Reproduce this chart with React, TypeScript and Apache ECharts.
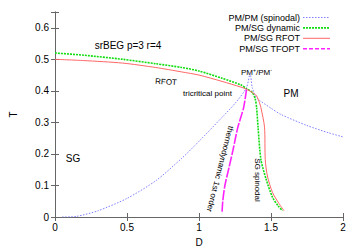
import React, { useEffect, useRef } from "react";
import * as echarts from "echarts";

// PM/PM spinodal (blue dotted)
const spinodalD = [0.05, 0.15, 0.3, 0.5, 0.7, 0.88, 1.0, 1.16, 1.25, 1.33, 1.355, 1.37, 1.4, 1.5, 1.57, 1.75, 1.9, 2.0];
const spinodalT = [0.0, 0.002, 0.02, 0.059, 0.115, 0.186, 0.24, 0.316, 0.36, 0.41, 0.455, 0.41, 0.378, 0.345, 0.325, 0.29, 0.267, 0.254];

// PM/SG dynamic (green dashed)
const dynamicD = [0.0, 0.2, 0.47, 0.7, 0.88, 1.0, 1.16, 1.29, 1.33, 1.37, 1.39, 1.4, 1.41, 1.43, 1.466, 1.51, 1.55, 1.58];
const dynamicT = [0.52, 0.513, 0.5, 0.486, 0.474, 0.463, 0.44, 0.419, 0.407, 0.395, 0.375, 0.347, 0.285, 0.182, 0.12, 0.063, 0.035, 0.02];

// PM/SG RFOT (red solid)
const rfotD = [0.0, 0.2, 0.47, 0.7, 0.88, 1.0, 1.16, 1.29, 1.33, 1.37, 1.4, 1.42, 1.43, 1.455, 1.46, 1.475, 1.51, 1.555, 1.59];
const rfotT = [0.5, 0.496, 0.488, 0.474, 0.46, 0.45, 0.43, 0.412, 0.405, 0.395, 0.384, 0.362, 0.347, 0.285, 0.182, 0.13, 0.078, 0.043, 0.02];

// PM/SG TFOPT (magenta)
const tfoptD = [1.33, 1.31, 1.27, 1.235, 1.21, 1.18, 1.165, 1.16];
const tfoptT = [0.405, 0.347, 0.285, 0.21, 0.16, 0.1, 0.05, 0.012];

const seriesNames = ["PM/PM (spinodal)", "PM/SG dynamic", "PM/SG RFOT", "PM/SG TFOPT"];
const xTicks = [0, 0.5, 1, 1.5, 2];

const zip = (a: number[], b: number[]) => a.map((v, i) => [v, b[i]]);

const FONT = "Liberation Sans, Arial, sans-serif";

const styles = [
  { color: "#7f7fff", width: 1, type: [1.5, 1.5] as number[] | string },
  { color: "#11dd11", width: 1.6, type: [2, 1] as number[] | string },
  { color: "#ff6666", width: 1, type: "solid" as number[] | string },
  { color: "#ff22ff", width: 1.6, type: [10, 1.5] as number[] | string },
];

export default function App() {
  const ref = useRef<HTMLDivElement>(null);
  useEffect(() => {
    if (!ref.current) return;
    const chart = echarts.init(ref.current, undefined, { renderer: "svg" });
    const axisLine = { show: true, lineStyle: { color: "#666", width: 1 } };
    const tick = { show: true, inside: true, length: 4, lineStyle: { color: "#666" } };
    const legendRows = [17.5, 27.9, 38.3, 48.7];
    const dataSets = [
      zip(spinodalD, spinodalT),
      zip(dynamicD, dynamicT),
      zip(rfotD, rfotT),
      zip(tfoptD, tfoptT),
    ];
    const legendGraphics: any[] = [];
    seriesNames.forEach((n, i) => {
      const s = styles[i];
      legendGraphics.push({
        type: "text", x: 300, y: legendRows[i],
        style: { text: n, font: `9px ${FONT}`, fill: "#000", align: "right", verticalAlign: "middle" },
      });
      legendGraphics.push({
        type: "line", shape: { x1: 303, y1: legendRows[i], x2: 330, y2: legendRows[i] },
        style: {
          stroke: s.color, lineWidth: s.width,
          lineDash: Array.isArray(s.type) ? (i === 3 ? [4, 2] : s.type) : null,
        },
      });
    });
    chart.setOption({
      animation: false,
      textStyle: { fontFamily: FONT },
      grid: { left: 51, right: 17, top: 12, bottom: 30 },
      xAxis: [
        {
          type: "value", min: 0, max: 2, interval: 0.5, position: "bottom",
          axisLine, axisTick: tick, splitLine: { show: false },
          axisLabel: { fontSize: 10, color: "#000", margin: 5, fontFamily: FONT,
            formatter: (v: number) => (xTicks.includes(v) ? String(v) : "") },
          name: "D", nameLocation: "middle", nameGap: 20,
          nameTextStyle: { fontSize: 10, color: "#000", fontFamily: FONT },
        },
        {
          type: "value", min: 0, max: 2, interval: 0.5, position: "top",
          axisLine, axisTick: tick, splitLine: { show: false }, axisLabel: { show: false },
        },
      ],
      yAxis: [
        {
          type: "value", min: 0, max: 0.65, interval: 0.1, position: "left",
          axisLine, axisTick: tick, splitLine: { show: false },
          axisLabel: { fontSize: 10, color: "#000", margin: 6, fontFamily: FONT,
            formatter: (v: number) => (v > 0.6001 ? "" : String(Math.round(v * 10) / 10)) },
          name: "T", nameLocation: "middle", nameGap: 37, nameRotate: 90,
          nameTextStyle: { fontSize: 10, color: "#000", fontFamily: FONT },
        },
        {
          type: "value", min: 0, max: 0.65, interval: 0.1, position: "right",
          axisLine, axisTick: tick, splitLine: { show: false }, axisLabel: { show: false },
        },
      ],
      series: seriesNames.map((n, i) => ({
        name: n, type: "line", symbol: "none", smooth: 0.25,
        data: dataSets[i],
        lineStyle: { color: styles[i].color, width: styles[i].width, type: styles[i].type },
        itemStyle: { color: styles[i].color },
      })),
      graphic: [
        ...legendGraphics,
        { type: "text", x: 128, y: 45, style: { text: "srBEG p=3 r=4", font: `10px ${FONT}`, fill: "#000", align: "center", verticalAlign: "middle" } },
        { type: "text", x: 166, y: 82, rotation: -0.06, style: { text: "RFOT", font: `8px ${FONT}`, fill: "#000", align: "center", verticalAlign: "middle" } },
        { type: "text", x: 183, y: 93, style: { text: "tricritical point", font: `8px ${FONT}`, fill: "#000", align: "left", verticalAlign: "middle" } },
        {
          type: "text", x: 241, y: 72,
          style: {
            text: "PM{s|+}/PM{s|-}", font: `8px ${FONT}`, fill: "#000", align: "left", verticalAlign: "middle",
            rich: { s: { fontSize: 5, verticalAlign: "top", padding: [0, 0, 4, 0], fontFamily: FONT } },
          },
        },
        { type: "text", x: 291, y: 93, style: { text: "PM", font: `10px ${FONT}`, fill: "#000", align: "center", verticalAlign: "middle" } },
        { type: "text", x: 73, y: 158, style: { text: "SG", font: `10px ${FONT}`, fill: "#000", align: "center", verticalAlign: "middle" } },
        { type: "text", x: 220, y: 169, rotation: -1.82, style: { text: "thermodynamic 1st order", font: `8px ${FONT}`, fill: "#000", align: "center", verticalAlign: "middle" } },
        { type: "text", x: 257, y: 180, rotation: -Math.PI / 2, style: { text: "SG spinodal", font: `8px ${FONT}`, fill: "#000", align: "center", verticalAlign: "middle" } },
      ],
    });
    return () => chart.dispose();
  }, []);
  return <div ref={ref} style={{ width: 360, height: 252, position: "absolute", left: 0, top: 0 }} />;
}
